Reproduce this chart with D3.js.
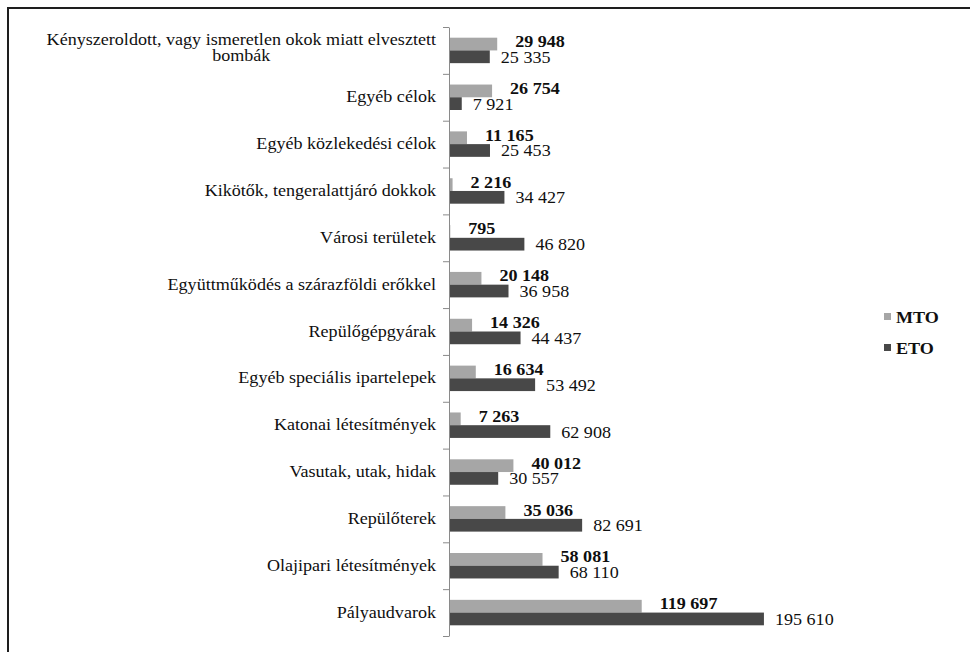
<!DOCTYPE html>
<html>
<head>
<meta charset="utf-8">
<script src="https://cdn.jsdelivr.net/npm/d3@7"></script>
<style>
  body { margin: 0; background: #ffffff; }
  svg { display: block; }
</style>
</head>
<body>
<script>
// Data
var categories = [
    "Kényszeroldott, vagy ismeretlen okok miatt elvesztett|bombák",
    "Egyéb célok",
    "Egyéb közlekedési célok",
    "Kikötők, tengeralattjáró dokkok",
    "Városi területek",
    "Együttműködés a szárazföldi erőkkel",
    "Repülőgépgyárak",
    "Egyéb speciális ipartelepek",
    "Katonai létesítmények",
    "Vasutak, utak, hidak",
    "Repülőterek",
    "Olajipari létesítmények",
    "Pályaudvarok"
];
var mto = [29948, 26754, 11165, 2216, 795, 20148, 14326, 16634, 7263, 40012, 35036, 58081, 119697];
var eto = [25335, 7921, 25453, 34427, 46820, 36958, 44437, 53492, 62908, 30557, 82691, 68110, 195610];
var series = ["MTO", "ETO"];

// SVG Variables
var width = 970;
var height = 652;
var stretch = 1.13; // the scanned chart is wider than it is tall
var fontFamily = "'Liberation Serif', 'Times New Roman', serif";
var colors = { "MTO": "#a6a6a6", "ETO": "#484848" };

var svg = d3.select("body").append("svg")
    .attr("width", width)
    .attr("height", height);

// Frame around the chart
svg.append("rect")
    .attr("x", 8).attr("y", 8)
    .attr("width", 1000).attr("height", 1000)
    .attr("fill", "none")
    .attr("stroke", "#1e1e1e")
    .attr("stroke-width", 2);

// Scales
var x = d3.scaleLinear().domain([0, 200000]).range([449, 771]);
var y = d3.scaleBand().domain(d3.range(categories.length)).range([27, 636]);
var inner = d3.scaleBand().domain(series).range([0, y.bandwidth()]).paddingOuter(0.84);

// helper: text stretched horizontally around its anchor
function addText(g, tx, ty, str, anchor, weight) {
    return g.append("text")
        .attr("transform", "translate(" + tx + "," + ty + ") scale(" + stretch + ",1)")
        .attr("text-anchor", anchor)
        .attr("font-family", fontFamily)
        .attr("font-size", 16)
        .attr("font-weight", weight)
        .attr("fill", "#0f0f0f")
        .text(str);
}

// Bars
var rows = categories.map(function(c, i) {
    return { i: i, name: c, MTO: mto[i], ETO: eto[i] };
});

var groups = svg.selectAll("g.row").data(rows).enter().append("g")
    .attr("class", "row")
    .attr("transform", function(d) { return "translate(0," + y(d.i) + ")"; });

series.forEach(function(s) {
    groups.append("rect")
        .attr("x", x(0))
        .attr("y", inner(s))
        .attr("width", function(d) { return x(d[s]) - x(0); })
        .attr("height", inner.bandwidth())
        .attr("fill", colors[s]);
});

// Value labels
var fmt = function(v) { return d3.format(",")(v).replace(/,/g, " "); };
groups.each(function(d) {
    var g = d3.select(this);
    addText(g, x(d.MTO) + 18, inner("MTO") + inner.bandwidth() / 2 + 3, fmt(d.MTO), "start", "bold");
    addText(g, x(d.ETO) + 11, inner("ETO") + inner.bandwidth() / 2 + 6, fmt(d.ETO), "start", "normal");
});

// Category labels (two-line label: second line centred under the first)
groups.each(function(d) {
    var g = d3.select(this);
    var lines = d.name.split("|");
    var cy = y.bandwidth() / 2 + 5;
    if (lines.length == 1) {
        addText(g, 436, cy, lines[0], "end", "normal");
    } else {
        var first = addText(g, 436, cy - 10, lines[0], "end", "normal");
        var w = first.node().getComputedTextLength() * stretch;
        addText(g, 436 - w / 2, cy + 6, lines[1], "middle", "normal");
    }
});

// Axis with ticks on band boundaries
var edges = d3.scaleLinear().domain([0, categories.length]).range([27, 636]);
var axis = svg.append("g")
    .attr("transform", "translate(" + x(0) + ",0)")
    .call(d3.axisLeft(edges).tickValues(d3.range(categories.length + 1)).tickFormat("").tickSizeInner(6).tickSizeOuter(0));
axis.selectAll("path, line").attr("stroke", "#8a8a8a");

// Legend
var legend = svg.selectAll("g.legend").data(series).enter().append("g")
    .attr("class", "legend")
    .attr("transform", function(d, i) { return "translate(884," + (313 + i * 31) + ")"; });
legend.append("rect")
    .attr("width", 7).attr("height", 7)
    .attr("fill", function(d) { return colors[d]; });
legend.each(function(d) {
    addText(d3.select(this), 12, 10, d, "start", "bold");
});
</script>
</body>
</html>
